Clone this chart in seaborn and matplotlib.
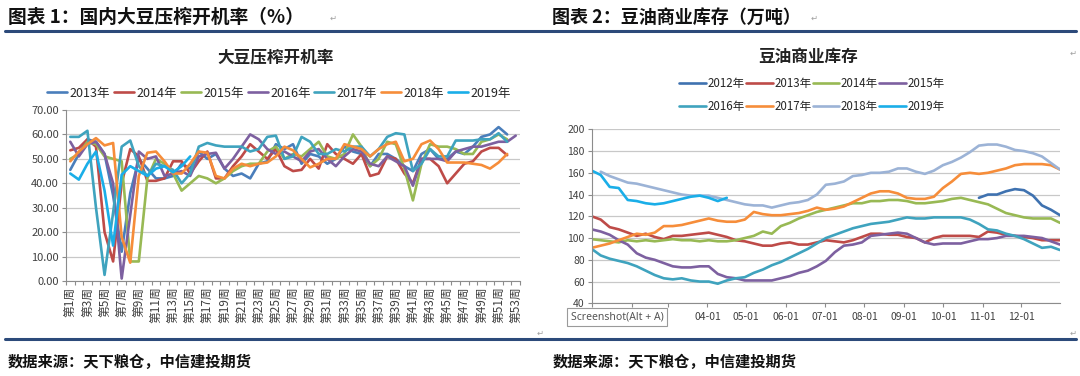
import numpy as np
import pandas as pd
import matplotlib
matplotlib.use("Agg")
import matplotlib.pyplot as plt
import matplotlib.dates as mdates
from matplotlib.lines import Line2D
from matplotlib.ticker import MultipleLocator, FormatStrFormatter, FuncFormatter
import seaborn as sns

nan = np.nan

# ---------------- left chart: weekly soybean crush rate (%) ----------------
week_no = list(range(1, 54))
week_labels = ["第%d周" % w for w in week_no]

crush_2013 = [45.5, 52, 58, 57, 52, 35, 12, 36, 50, 46, 42, 42, 43, 48, 46, 53, 50, 52, 46, 43,
              44, 42, 48, 49, 56, 54, 56, 48, 52, 51, 48, 50, 55, 53, 52, 47, 52, 52, 50, 47,
              45, 52, 54, 50, 50, 53, 52, 55, 59, 60, 63, 60, nan]
crush_2014 = [53.5, 54.5, 58, 55, 20, 8, 40, 54, 51, 41, 41, 42, 49, 49, 44, 49, 53, 42, 42, 47,
              51, 56, 53, 50, 54, 47, 45, 45.5, 50, 46, 56, 52, 50, 48, 52, 43, 44, 51, 50, 44,
              40, 50, 50, 47, 40, 44, 48, 49, 53, 54.5, 54.5, 51.5, nan]
crush_2015 = [50, 52, 57, 56, 51, 50, 49, 8, 8, 42, 50, 48, 44, 37, 40, 43, 42, 40, 42, 45,
              47, 48, 48, 53, 55, 50, 52, 51, 54, 57, 51, 50, 52, 60, 55, 47, 50, 57, 56, 46,
              33, 48, 56, 55, 55, 54, 52, 52, 57, 58, 60, 58, nan]
crush_2016 = [57, 51, 56, 57, 52, 40, 1, 27, 53, 50, 51, 43, 44, 45, 43, 51, 52, 52.5, 46, 50,
              55, 60, 58, 54, 52, 53, 51, 49, 53, 54, 50, 47, 51, 54, 53, 48, 47, 51, 49, 47,
              39, 50, 50, 50, 49, 53, 54, 55, 55, 56, 57, 57, 59.5]
crush_2017 = [59, 59, 61.5, 30, 2.5, 28, 55, 57.5, 47, 43, 48, 47, 45.5, 40, 44, 55, 56.5, 55.5, 55, 55,
              55, 53, 54, 59, 59.5, 50, 51, 59, 57, 52, 52, 54, 53, 55, 55, 51, 54, 59, 60.5, 60,
              45, 48, 54, 51, 51, 57.5, 57.5, 57.5, 58, 58, 60.5, 57, nan]
crush_2018 = [49, 53, 56, 58.5, 55.5, 56.5, 18, 7.5, 43, 52.5, 53, 49, 44, 44, 48, 53, 52.5, 43, 42, 46,
              48, 47, 48, 48.5, 51, 55, 53.5, 50, 46.5, 48, 50, 50, 56, 55, 54, 51, 54, 56, 57, 49,
              50, 56, 57.5, 54, 48.5, 48.5, 48.5, 48, 47.5, 46, 48.5, 52, nan]
crush_2019 = [44, 41.5, 48, 53, 37, 14.5, 43.5, 47, 45, 43, 46, 47, 44.5, 47, 51] + [nan] * 38

crush_years = ["2013年", "2014年", "2015年", "2016年", "2017年", "2018年", "2019年"]
crush_series = [crush_2013, crush_2014, crush_2015, crush_2016, crush_2017, crush_2018, crush_2019]
crush_colors = ["#4A7EBB", "#BE4B48", "#98B954", "#7D60A0", "#3FA3BE", "#F68D3A", "#1AAEE8"]

# ---------------- right chart: soybean oil commercial stock (10k t) ----------------
stock_dates = pd.date_range("2019-01-01", periods=53, freq="7D")

stock_2012 = [nan] * 43 + [137, 140, 140, 143, 145, 144, 139, 130, 126, 121]
stock_2013 = [120, 117, 110, 108, 105, 102, 104, 101, 99, 102, 102, 103, 104, 105, 103, 101, 98, 97,
              95, 93, 93, 95, 96, 94, 94, 96, 98, 97, 96, 98, 101, 104, 104, 103, 103, 101, 100,
              96, 100, 102, 102, 102, 102, 101, 106, 105, 103, 102, 101, 100, 98, 98, 98]
stock_2014 = [99, 98, 97, 96, 98, 97, 98, 97, 98, 99, 98, 98, 97, 98, 97, 97, 98, 100,
              102, 106, 104, 111, 114, 118, 121, 124, 126, 128, 130, 132, 132, 134, 134, 135, 135, 134, 132,
              132, 133, 134, 136, 137, 135, 133, 131, 127, 123, 121, 119, 118, 118, 118, 114]
stock_2015 = [108, 106, 103, 98, 94, 86, 82, 80, 77, 74, 73, 73, 74, 74, 67, 64, 63, 61,
              61, 61, 61, 63, 65, 68, 70, 74, 79, 87, 93, 94, 96, 102, 103, 104, 105, 104, 100,
              96, 94, 95, 95, 95, 97, 99, 99, 100, 102, 102, 102, 101, 100, 97, 94]
stock_2016 = [90, 84, 81, 79, 77, 74, 70, 66, 63, 62, 63, 61, 60, 60, 58, 61, 63, 64,
              68, 71, 75, 78, 82, 86, 90, 95, 100, 103, 106, 109, 111, 113, 114, 115, 117, 119, 118,
              118, 119, 119, 119, 119, 117, 113, 108, 107, 104, 102, 99, 95, 91, 92, 89]
stock_2017 = [91, 93, 95, 98, 101, 104, 103, 105, 111, 111, 112, 114, 116, 118, 116, 115, 115, 117,
              124, 122, 121, 121, 122, 123, 125, 128, 126, 127, 129, 133, 137, 141, 143, 143, 141, 137, 136,
              136, 138, 146, 152, 159, 160, 159, 160, 162, 164, 167, 168, 168, 168, 167, 163]
stock_2018 = [nan, 161, 157, 154, 151, 150, 148, 146, 144, 142, 140, 139, 139, 139, 137, 135, 133, 131,
              130, 130, 128, 130, 132, 133, 135, 140, 149, 150, 152, 157, 158, 160, 160, 161, 164, 164, 161,
              159, 162, 167, 170, 174, 179, 185, 186, 186, 184, 181, 180, 178, 175, 169, 163]
stock_2019 = [162, 158, 147, 146, 135, 134, 132, 131, 132, 134, 136, 138, 139, 137, 134, 137] + [nan] * 37

stock_years = ["2012年", "2013年", "2014年", "2015年", "2016年", "2017年", "2018年", "2019年"]
stock_series = [stock_2012, stock_2013, stock_2014, stock_2015, stock_2016, stock_2017, stock_2018, stock_2019]
stock_colors = ["#3F72B0", "#BE4B48", "#98B954", "#7D60A0", "#3FA3BE", "#F68D3A", "#9CB3D6", "#1AAEE8"]
# month labels hidden under the screenshot tooltip in the source
hidden_months = [1, 2, 3]

# long-form tables for seaborn
crush_df = pd.concat([pd.DataFrame({"week": np.arange(len(week_no)), "rate": s, "year": y})
                      for y, s in zip(crush_years, crush_series)]).dropna()
stock_df = pd.concat([pd.DataFrame({"date": stock_dates, "stock": s, "year": y})
                      for y, s in zip(stock_years, stock_series)]).dropna()

sns.set_theme(style="white")
plt.rcParams["font.family"] = ["Noto Sans CJK SC", "DejaVu Sans"]
plt.rcParams["axes.unicode_minus"] = False

W, H = 1080, 376
fig = plt.figure(figsize=(W / 100, H / 100), dpi=100)

def fx(x):
    return x / W

def fy(y):
    return 1 - y / H

grid_c = "#C8C8C8"
axis_c = "#8C8C8C"
tick_c = "#404040"
lw = 1.9

# ---- left chart ----
ax1 = fig.add_axes([fx(66), fy(281), fx(520 - 66), (281 - 110) / H])
sns.lineplot(data=crush_df, x="week", y="rate", hue="year", hue_order=crush_years,
             palette=crush_colors, linewidth=lw, errorbar=None, ax=ax1)
ax1.set_xlim(-0.5, len(week_no) - 0.5)
ax1.set_ylim(0, 70)
ax1.yaxis.set_major_locator(MultipleLocator(10))
ax1.yaxis.set_major_formatter(FormatStrFormatter("%.2f"))
ax1.set_xticks(np.arange(0, len(week_no), 2))
ax1.set_xticklabels(week_labels[::2], rotation=90, fontsize=8.5, color=tick_c)
ax1.set_xticks(np.arange(-0.5, len(week_no), 1), minor=True)
ax1.tick_params(axis="x", which="major", length=0, pad=4)
ax1.tick_params(axis="x", which="minor", length=3, color=axis_c, width=0.8, bottom=True)
ax1.tick_params(axis="y", length=3, color=axis_c, width=0.8, left=True, labelsize=8, labelcolor=tick_c, pad=2)
ax1.grid(axis="y", color=grid_c, linewidth=0.9)
ax1.set_xlabel("")
ax1.set_ylabel("")
for side in ["top", "right"]:
    ax1.spines[side].set_visible(False)
for side in ["left", "bottom"]:
    ax1.spines[side].set_color(axis_c)
    ax1.spines[side].set_linewidth(0.8)
h1, l1 = ax1.get_legend_handles_labels()
ax1.get_legend().remove()
fig.legend(h1, l1, loc="center", bbox_to_anchor=(fx(279), fy(93)), ncol=7, frameon=False,
           fontsize=9, handlelength=1.6, handletextpad=0.2, columnspacing=0.3, borderaxespad=0)
fig.text(fx(276), fy(57), "大豆压榨开机率", ha="center", va="center", fontsize=12,
         fontweight="bold", color="#222222")

# ---- right chart ----
ax2 = fig.add_axes([fx(591.7), fy(303.3), fx(1060 - 591.7), (303.3 - 129.3) / H])
sns.lineplot(data=stock_df, x="date", y="stock", hue="year", hue_order=stock_years,
             palette=stock_colors, linewidth=lw, errorbar=None, ax=ax2)
ax2.set_xlim(pd.Timestamp("2019-01-01"), pd.Timestamp("2019-12-31"))
ax2.set_ylim(40, 200)
ax2.yaxis.set_major_locator(MultipleLocator(20))
ax2.xaxis.set_major_locator(mdates.MonthLocator())
ax2.xaxis.set_major_formatter(FuncFormatter(
    lambda v, pos: "" if mdates.num2date(v).month in hidden_months else mdates.num2date(v).strftime("%m-%d")))
ax2.tick_params(axis="x", length=3, color=axis_c, width=0.8, bottom=True, labelsize=7.5, labelcolor=tick_c, pad=3)
ax2.tick_params(axis="y", length=3, color=axis_c, width=0.8, left=True, labelsize=7.5, labelcolor=tick_c, pad=2)
plt.setp(ax2.get_xticklabels(), rotation=0, ha="center")
ax2.grid(axis="y", color=grid_c, linewidth=0.9)
ax2.set_xlabel("")
ax2.set_ylabel("")
for side in ["top", "right"]:
    ax2.spines[side].set_visible(False)
for side in ["left", "bottom"]:
    ax2.spines[side].set_color(axis_c)
    ax2.spines[side].set_linewidth(0.8)
h2, l2 = ax2.get_legend_handles_labels()
ax2.get_legend().remove()
order = [0, 4, 1, 5, 2, 6, 3, 7]
fig.legend([h2[i] for i in order], [l2[i] for i in order], loc="center",
           bbox_to_anchor=(fx(812), fy(95)), ncol=4, frameon=False, fontsize=8.3,
           handlelength=2.3, handletextpad=0.15, columnspacing=0.1, labelspacing=0.85, borderaxespad=0)
fig.text(fx(808), fy(57), "豆油商业库存", ha="center", va="center", fontsize=12,
         fontweight="bold", color="#222222")

# screenshot tooltip left over in the source picture
fig.text(fx(571), fy(317), "Screenshot(Alt + A)", ha="left", va="center", fontsize=7.5,
         color="#555555", family=["Noto Sans", "DejaVu Sans"], zorder=20,
         bbox=dict(boxstyle="square,pad=0.35", facecolor="white", edgecolor="#9A9A9A", linewidth=0.8))

# ---- document frame: headings, rules, sources ----
fig.text(fx(8), fy(17), "图表 1：国内大豆压榨开机率（%）", ha="left", va="center",
         fontsize=13.5, fontweight="bold", color="#111111")
fig.text(fx(552), fy(17), "图表 2：豆油商业库存（万吨）", ha="left", va="center",
         fontsize=13, fontweight="bold", color="#111111")
fig.add_artist(Line2D([fx(5), fx(1076)], [fy(31), fy(31)], color="#2C4A7A", linewidth=2.2))
fig.add_artist(Line2D([fx(5), fx(1076)], [fy(339), fy(339)], color="#2C4A7A", linewidth=2.2))
fig.text(fx(8), fy(362), "数据来源：天下粮仓，中信建投期货", ha="left", va="center",
         fontsize=11, fontweight="bold", color="#111111")
fig.text(fx(553), fy(362), "数据来源：天下粮仓，中信建投期货", ha="left", va="center",
         fontsize=11, fontweight="bold", color="#111111")
for px, py in [(333, 18), (814, 18), (1073, 53), (540, 333), (1073, 333)]:
    fig.text(fx(px), fy(py), "\u21b5", ha="center", va="center", fontsize=6,
             color="#A0A0A0", family=["DejaVu Sans"])

fig.savefig("out.png", dpi=100)
